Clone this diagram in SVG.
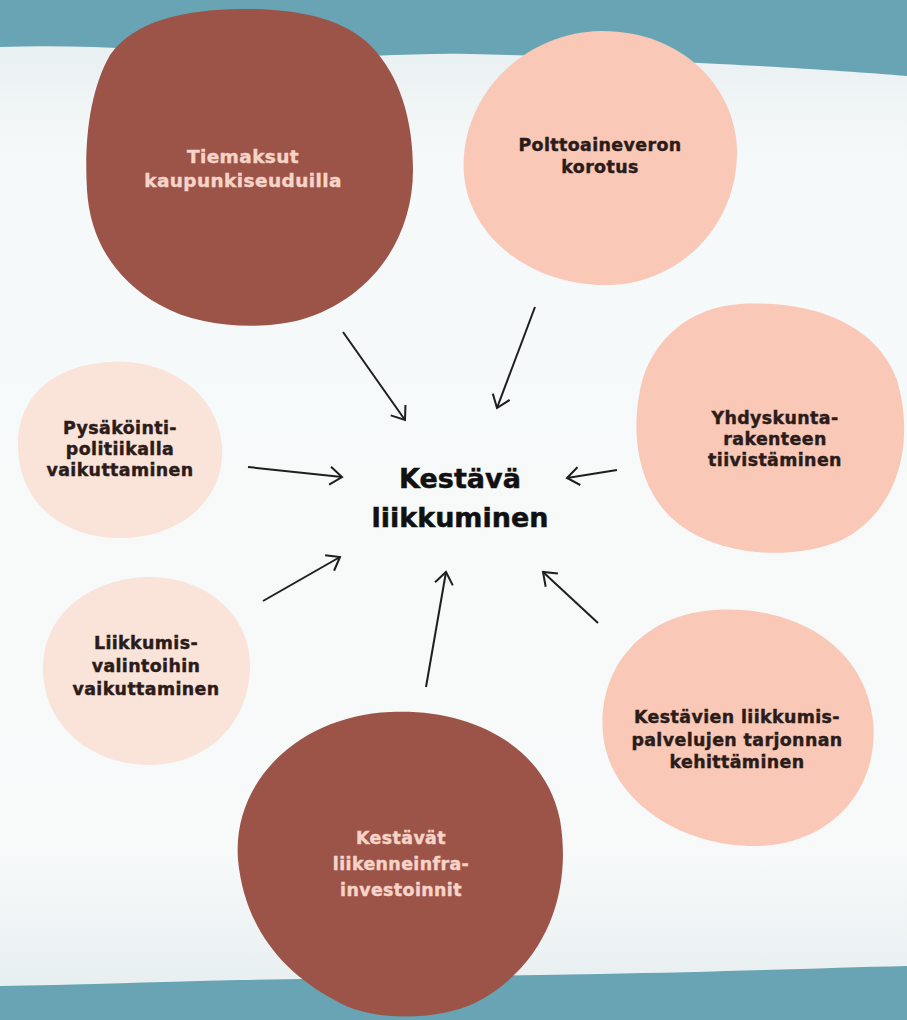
<svg xmlns="http://www.w3.org/2000/svg" width="907" height="1020" viewBox="0 0 907 1020">
<defs>
<style>
.dark{fill:#9C5449}
.salmon{fill:#F9C8B7}
.light{fill:#FAE3D9}
.t{font-family:"DejaVu Sans",sans-serif;font-weight:bold;text-anchor:middle;letter-spacing:0.4px;font-size:17.4px;stroke-width:0.45px}
.td{fill:#2B1C19;stroke:#2B1C19}
.tl{fill:#F7D3C8;stroke:#F7D3C8}
.conn line{stroke:#1E1E1E;stroke-width:2;fill:none;marker-end:url(#ah)}
.ct{font-family:"DejaVu Sans",sans-serif;font-weight:bold;font-size:27px;text-anchor:middle;fill:#111;stroke:#111;stroke-width:0.5px}
</style>
<marker id="ah" markerUnits="userSpaceOnUse" markerWidth="20" markerHeight="24" refX="14" refY="10" orient="auto" viewBox="0 0 20 20">
<path d="M2,1 L14,10 L2,19" fill="none" stroke="#1E1E1E" stroke-width="2"/>
</marker>
<linearGradient id="band" x1="0" y1="0" x2="0" y2="1">
<stop offset="0" stop-color="#E9F0F2"/>
<stop offset="0.12" stop-color="#F6F9F9"/>
<stop offset="0.85" stop-color="#F8FAFA"/>
<stop offset="1" stop-color="#E8EFF1"/>
</linearGradient>
</defs>
<rect x="0" y="0" width="907" height="1020" fill="#68A4B3"/>
<path d="M0,47 C80,44 160,50 240,56 C320,62 400,52 470,54 C560,56 640,60 720,64 C800,68 860,72 907,76 L907,966 C820,968 720,972 600,974 C480,976 360,978 240,980 C150,982 70,985 0,986 Z" fill="url(#band)"/>
<g id="node-tiemaksut">
<path class="dark" d="M240,9 C300,8 345,20 370,45 C400,75 413,120 413,170 C413,240 370,300 300,320 C260,330 200,328 160,305 C115,280 90,240 87,190 C84,140 90,90 110,55 C135,20 185,10 240,9 Z"/>
<text class="t tl" style="font-size:18.5px" x="243" y="163">Tiemaksut</text>
<text class="t tl" style="font-size:18.5px" x="243" y="187">kaupunkiseuduilla</text>
</g>
<g id="node-polttoaine">
<path class="salmon" d="M600,31 C680,30 735,85 737,150 C738,225 680,283 610,285 C535,287 470,240 464,175 C458,100 520,33 600,31 Z"/>
<text class="t td" x="600" y="151">Polttoaineveron</text>
<text class="t td" x="600" y="173">korotus</text>
</g>
<g id="node-yhdyskunta">
<path class="salmon" d="M740,304 C805,300 875,320 897,380 C915,440 900,510 842,540 C790,562 720,555 680,525 C640,495 630,440 640,390 C650,340 690,307 740,304 Z"/>
<text class="t td" x="775" y="424">Yhdyskunta-</text>
<text class="t td" x="775" y="445">rakenteen</text>
<text class="t td" x="775" y="466">tiivistäminen</text>
</g>
<g id="node-pysakointi">
<path class="light" d="M110,362 C170,358 218,395 222,445 C226,500 180,538 120,538 C60,538 18,500 18,445 C18,395 55,365 110,362 Z"/>
<text class="t td" x="120" y="434">Pysäköinti-</text>
<text class="t td" x="120" y="455">politiikalla</text>
<text class="t td" x="120" y="476">vaikuttaminen</text>
</g>
<g id="node-liikkumis">
<path class="light" d="M145,577 C205,575 250,615 250,665 C250,725 205,765 150,765 C90,765 43,725 43,668 C43,615 88,580 145,577 Z"/>
<text class="t td" x="146" y="649">Liikkumis-</text>
<text class="t td" x="146" y="672">valintoihin</text>
<text class="t td" x="146" y="695">vaikuttaminen</text>
</g>
<g id="node-kestavien">
<path class="salmon" d="M715,610 C800,605 865,650 873,720 C880,790 830,845 757,846 C680,847 610,800 603,735 C597,665 645,614 715,610 Z"/>
<text class="t td" x="737" y="723">Kestävien liikkumis-</text>
<text class="t td" x="737" y="746">palvelujen tarjonnan</text>
<text class="t td" x="737" y="768">kehittäminen</text>
</g>
<g id="node-kestavat">
<path class="dark" d="M390,712 C470,708 545,745 560,820 C572,890 548,965 475,1003 C440,1020 375,1022 340,1003 C275,970 244,920 238,860 C232,780 300,716 390,712 Z"/>
<text class="t tl" x="401" y="844">Kestävät</text>
<text class="t tl" x="401" y="870">liikenneinfra-</text>
<text class="t tl" x="401" y="896">investoinnit</text>
</g>
<g id="node-center">
<text class="ct" x="460" y="488">Kestävä</text>
<text class="ct" x="460" y="527">liikkuminen</text>
</g>
<g id="connectors" class="conn">
<line x1="343" y1="332" x2="405" y2="420"/>
<line x1="535" y1="307" x2="497" y2="408"/>
<line x1="248" y1="467" x2="342" y2="477"/>
<line x1="617" y1="470" x2="567" y2="478"/>
<line x1="263" y1="601" x2="340" y2="557"/>
<line x1="426" y1="687" x2="446" y2="572"/>
<line x1="598" y1="623" x2="543" y2="572"/>
</g>
</svg>
